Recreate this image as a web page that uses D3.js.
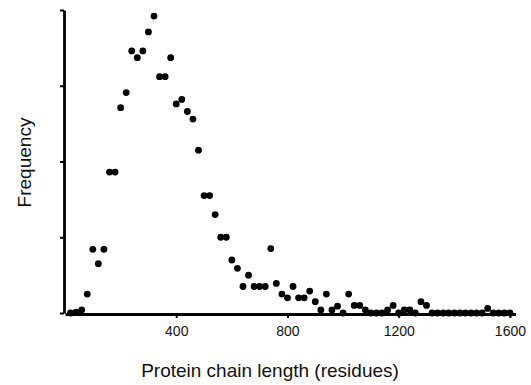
<!DOCTYPE html>
<html>
<head>
<meta charset="utf-8">
<script src="https://cdn.jsdelivr.net/npm/d3@7"></script>
<style>
  body { margin: 0; background: #fff; }
  text { font-family: "Liberation Sans", Arial, Helvetica, sans-serif; }
</style>
</head>
<body>
<script>
// chain length bins (residues)
var lengths = [20, 40, 60, 80, 100, 120, 140, 160, 180, 200,
  220, 240, 260, 280, 300, 320, 340, 360, 380, 400,
  420, 440, 460, 480, 500, 520, 540, 560, 580, 600,
  620, 640, 660, 680, 700, 720, 740, 760, 780, 800,
  820, 840, 860, 880, 900, 920, 940, 960, 980, 1000,
  1020, 1040, 1060, 1080, 1100, 1120, 1140, 1160, 1180, 1200,
  1220, 1240, 1260, 1280, 1300, 1320, 1340, 1360, 1380, 1400,
  1420, 1440, 1460, 1480, 1500, 1520, 1540, 1560, 1580, 1600];

// frequency for each bin
var freq = [0, 0.1, 0.4, 2.5, 8.4, 6.5, 8.4, 18.6, 18.6, 27.1,
  29.1, 34.6, 33.7, 34.6, 37.1, 39.2, 31.2, 31.2, 33.7, 27.6,
  28.2, 26.6, 25.6, 21.5, 15.5, 15.5, 13.0, 10.0, 10.0, 7.0,
  5.9, 3.5, 5.0, 3.5, 3.5, 3.5, 8.5, 3.9, 2.5, 2.0,
  3.5, 2.0, 2.0, 2.9, 1.5, 0.4, 2.5, 0.4, 0.9, 0,
  2.5, 1.0, 1.0, 0.4, 0, 0, 0, 0.4, 1.0, 0,
  0.4, 0.4, 0, 1.5, 1.0, 0, 0, 0, 0, 0,
  0, 0, 0, 0, 0, 0.6, 0, 0, 0, 0];

var xTicks = [400, 800, 1200, 1600];
var yTicks = [0, 10, 20, 30, 40];

var data = lengths.map(function(d, i) { return {len: d, f: freq[i]}; });

var width = 531, height = 385;

var svg = d3.select("body")
  .append("svg")
    .attr("width", width)
    .attr("height", height);

var x = d3.scaleLinear()
    .domain([0, 1620])
    .range([65, 515.5]);

var y = d3.scaleLinear()
    .domain([0, 40])
    .range([313, 10]);

// points first so the axes sit on top like the original
svg.append("g")
  .selectAll("circle")
  .data(data)
  .enter()
  .append("circle")
    .attr("cx", function(d) { return x(d.len); })
    .attr("cy", function(d) { return y(d.f); })
    .attr("r", 3.4)
    .attr("fill", "#000");

var xAxis = svg.append("g")
    .attr("transform", "translate(0,314)")
    .call(d3.axisBottom(x).tickValues(xTicks).tickFormat(d3.format("d"))
      .tickSize(4).tickSizeOuter(0).tickPadding(8));

var yAxis = svg.append("g")
    .attr("transform", "translate(64,0)")
    .call(d3.axisLeft(y).tickValues(yTicks).tickSize(4).tickSizeOuter(0).tickFormat(""));

svg.selectAll(".domain").attr("stroke", "#000").attr("stroke-width", 2.8);
svg.selectAll(".tick line").attr("stroke", "#000").attr("stroke-width", 2);
xAxis.selectAll("text")
    .attr("fill", "#111")
    .style("font-size", "14px")
    .style("font-family", "'Liberation Sans', Arial, sans-serif");

svg.append("text")
    .attr("x", 270)
    .attr("y", 377)
    .attr("text-anchor", "middle")
    .style("font-size", "19px")
    .attr("fill", "#111")
    .text("Protein chain length (residues)");

svg.append("text")
    .attr("transform", "translate(31,162.5)rotate(-90)")
    .attr("text-anchor", "middle")
    .style("font-size", "19px")
    .attr("fill", "#111")
    .text("Frequency");
</script>
</body>
</html>
